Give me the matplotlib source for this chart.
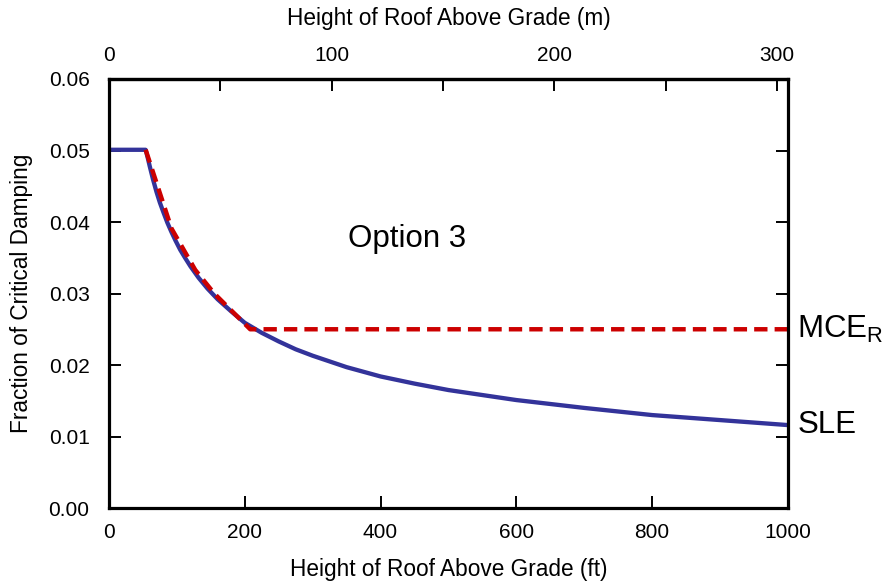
import matplotlib.pyplot as plt

plt.rcParams['font.family'] = ['Liberation Sans', 'DejaVu Sans']

h_sle = [0, 54, 57, 60, 65, 70, 75, 80, 86, 92, 98, 105, 112, 120, 132, 145, 160,
         180, 200, 225, 250, 275, 300, 350, 400, 450, 500, 600, 700, 800, 900, 1000]
z_sle = [0.0501, 0.0501, 0.0490, 0.0478, 0.0459, 0.0442, 0.0427, 0.0414, 0.0399,
         0.0386, 0.0374, 0.0361, 0.0350, 0.0338, 0.0322, 0.0307, 0.0292, 0.0275,
         0.0259, 0.0245, 0.0233, 0.0222, 0.0213, 0.0197, 0.0184, 0.0174, 0.0165,
         0.0151, 0.0140, 0.0130, 0.0123, 0.0116]

h_mce = [54, 92, 127, 155, 208, 1000]
z_mce = [0.0501, 0.0391, 0.0333, 0.0300, 0.0250, 0.0250]

xticks_ft = [0, 200, 400, 600, 800, 1000]
yticks = [0.00, 0.01, 0.02, 0.03, 0.04, 0.05, 0.06]

fig = plt.figure(figsize=(8.84, 5.83), dpi=100)
ax = fig.add_axes([0.1233, 0.1286, 0.768, 0.7359])

ax.plot(h_sle, z_sle, color='#33339a', lw=3.1, solid_capstyle='butt')
ax.plot(h_mce, z_mce, color='#cc0000', lw=3.2, dashes=(3.0, 1.6))

ax.set_xlim(0, 1000)
ax.set_ylim(0, 0.06)
ax.set_xticks(xticks_ft)
ax.set_yticks(yticks)
ax.set_yticklabels(['%.2f' % v for v in yticks])

for s in ax.spines.values():
    s.set_linewidth(2.3)

ax.tick_params(direction='in', length=8.5, width=1.4, labelsize=15,
               right=True, top=False)
ax.tick_params(axis='x', pad=11)
ax.tick_params(axis='y', pad=14)

ax.set_xlabel('Height of Roof Above Grade (ft)', fontsize=16.3, labelpad=11)
ax.set_ylabel('Fraction of Critical Damping', fontsize=16.3, labelpad=11)

top = ax.secondary_xaxis('top', functions=(lambda x: x * 0.3048, lambda m: m / 0.3048))
top.set_xticks([0, 100, 200, 300])
top.set_xticks([50, 150, 250], minor=True)
top.tick_params(which='both', direction='in', length=8.5, width=1.4, labelsize=15, pad=10)
top.spines['top'].set_linewidth(2.3)
top.set_xlabel('Height of Roof Above Grade (m)', fontsize=16.3, labelpad=15)

ax.text(439, 0.0376, 'Option 3', fontsize=22.5, ha='center', va='center')
ax.text(1014, 0.0250, r'MCE$_\mathregular{R}$', fontsize=22.5, ha='left', va='center', clip_on=False)
ax.text(1014, 0.0116, 'SLE', fontsize=22.5, ha='left', va='center', clip_on=False)

fig.savefig('out.png', dpi=100)
